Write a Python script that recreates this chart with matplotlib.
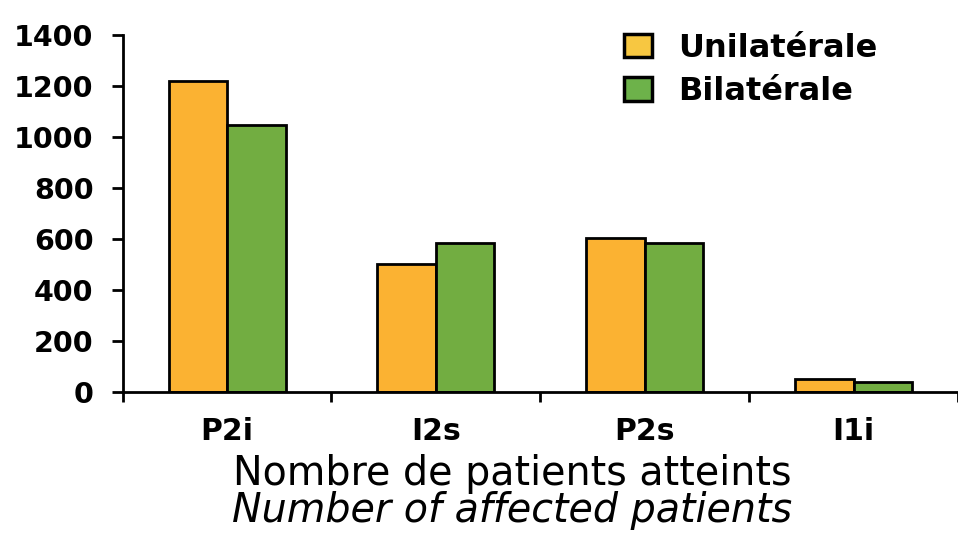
import numpy as np
import matplotlib.pyplot as plt
from matplotlib.patches import Patch

categories = ['P2i', 'I2s', 'P2s', 'I1i']
unilaterale = [1220, 502, 604, 51]
bilaterale = [1047, 584, 584, 39]
y_ticks = [0, 200, 400, 600, 800, 1000, 1200, 1400]

orange = '#FBB232'
green = '#72AD41'

plt.rcParams['font.family'] = ['DejaVu Sans']

fig = plt.figure(figsize=(9.58, 5.33), dpi=100)
ax = fig.add_axes([0.128, 0.2645, 0.872, 0.6695])

x = np.arange(len(categories))
w = 0.28
ax.bar(x - w / 2, unilaterale, w, color=orange, edgecolor='black', linewidth=2)
ax.bar(x + w / 2, bilaterale, w, color=green, edgecolor='black', linewidth=2)

ax.set_xlim(-0.5, len(categories) - 0.5)
ax.set_ylim(0, 1400)

for s in ['top', 'right']:
    ax.spines[s].set_visible(False)
for s in ['left', 'bottom']:
    ax.spines[s].set_linewidth(2)

ax.set_yticks(y_ticks)
ax.set_yticklabels([str(v) for v in y_ticks], fontsize=20.5, fontweight='bold')
ax.tick_params(axis='y', length=8, width=2, pad=13)

# boundaries as major ticks, labels on minor ticks at centres
ax.set_xticks(np.arange(len(categories) + 1) - 0.5)
ax.set_xticklabels([])
ax.tick_params(axis='x', which='major', length=7, width=2)
ax.set_xticks(x, minor=True)
ax.set_xticklabels(categories, minor=True, fontsize=21.5, fontweight='bold')
ax.tick_params(axis='x', which='minor', length=0, pad=18)

handles = [Patch(facecolor='#F7C741', edgecolor='black', linewidth=2.5, label='Unilatérale'),
           Patch(facecolor='#6DB24A', edgecolor='black', linewidth=2.5, label='Bilatérale')]
ax.legend(handles=handles, loc='upper right', bbox_to_anchor=(0.93, 1.07), frameon=False,
          prop={'size': 23, 'weight': 'bold'}, handlelength=0.9, handleheight=0.75,
          handletextpad=0.8, labelspacing=0.4, borderpad=0.2)

fig.text(0.535, 0.09, 'Nombre de patients atteints', ha='center', va='baseline', fontsize=28.5)
fig.text(0.535, 0.021, 'Number of affected patients', ha='center', va='baseline',
         fontsize=28.5, style='italic')

fig.savefig('out.png', dpi=100)
